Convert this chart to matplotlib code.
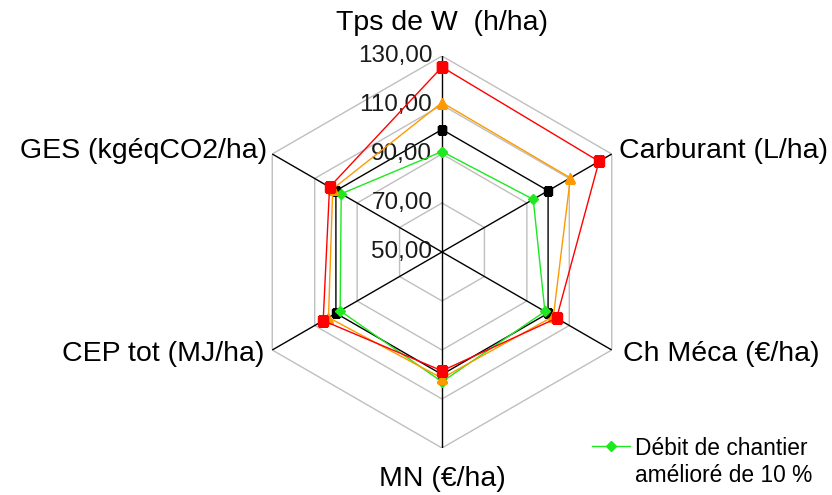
import numpy as np
import matplotlib
matplotlib.use('Agg')
import matplotlib.pyplot as plt

plt.rcParams['font.family'] = ['Liberation Sans', 'DejaVu Sans']

# axes du radar (sens horaire depuis le haut)
categories = ['Tps de W  (h/ha)', 'Carburant (L/ha)', 'Ch Méca (€/ha)',
              'MN (€/ha)', 'CEP tot (MJ/ha)', 'GES (kgéqCO2/ha)']

# séries
reference = [100, 100, 100, 100, 100, 100]
serie_rouge = [125.5, 124, 104, 98.5, 106, 103]
serie_orange = [111, 110.5, 102.5, 101.5, 103.5, 101.5]
debit_10 = [91, 93, 98.5, 103, 98, 97.5]

ticks = [50, 70, 90, 110, 130]
tick_labels = ['50,00', '70,00', '90,00', '110,00', '130,00']
legend_label = 'Débit de chantier\namélioré de 10 %'

W, H = 832, 495
fig = plt.figure(figsize=(W / 100, H / 100), dpi=100)
cx, cy, R = 442, 252, 196
ax = fig.add_axes([(cx - R) / W, (H - cy - R) / H, 2 * R / W, 2 * R / H],
                  projection='polar')
ax.set_theta_zero_location('N')
ax.set_theta_direction(-1)
ax.set_ylim(50, 130)
ax.grid(False)
ax.spines['polar'].set_visible(False)
ax.set_xticks([])
ax.set_yticks([])
ax.patch.set_alpha(0)

n = len(categories)
angles = np.linspace(0, 2 * np.pi, n, endpoint=False)
closed = np.append(angles, angles[0])

# grille hexagonale
for t in ticks[1:]:
    ax.plot(closed, [t] * (n + 1), color='#bfbfbf', lw=1, zorder=1)
# rayons
for a in angles:
    ax.plot([a, a], [50, 130], color='black', lw=1, zorder=2)

def close(v):
    return list(v) + [v[0]]

ax.plot(closed, close(reference), color='black', lw=1, marker='s', ms=6, zorder=3)
ax.plot(closed, close(debit_10), color='#1ee81e', lw=1, marker='D', ms=5,
        zorder=4, label=legend_label)
ax.plot(closed, close(serie_orange), color='#ff9900', lw=1, marker='^', ms=7.5, zorder=5)
ax.plot(closed, close(serie_rouge), color='#ff0000', lw=1, marker='s', ms=7, zorder=6)

# étiquettes de l'échelle
for t, lab in zip(ticks, tick_labels):
    ax.annotate(lab, xy=(0, t), xytext=(-7, 0), textcoords='offset points',
                ha='right', va='center', fontsize=17.5, color='#1a1a1a')

# étiquettes des catégories
offsets = [((0, 24), 'center', 'center'),
           ((5, 2), 'left', 'center'),
           ((8, -3), 'left', 'center'),
           ((0, -22), 'center', 'center'),
           ((-6, -3), 'right', 'center'),
           ((-4, 2), 'right', 'center')]
for a, lab, (off, ha, va) in zip(angles, categories, offsets):
    ax.annotate(lab, xy=(a, 130), xytext=off, textcoords='offset points',
                ha=ha, va=va, fontsize=20.5, color='black', annotation_clip=False)

leg = fig.legend(loc='upper left', bbox_to_anchor=(592 / W, 1 - 437 / H),
                 frameon=False, fontsize=16.4, handlelength=1.65,
                 handletextpad=0.25, handleheight=1.1,
                 borderpad=0, borderaxespad=0, labelspacing=0)
# symbole aligné sur la première ligne du texte
for col in leg._legend_handle_box.get_children():
    for row in col.get_children():
        row.align = 'top'

fig.savefig('out.png', dpi=100, facecolor='white')
